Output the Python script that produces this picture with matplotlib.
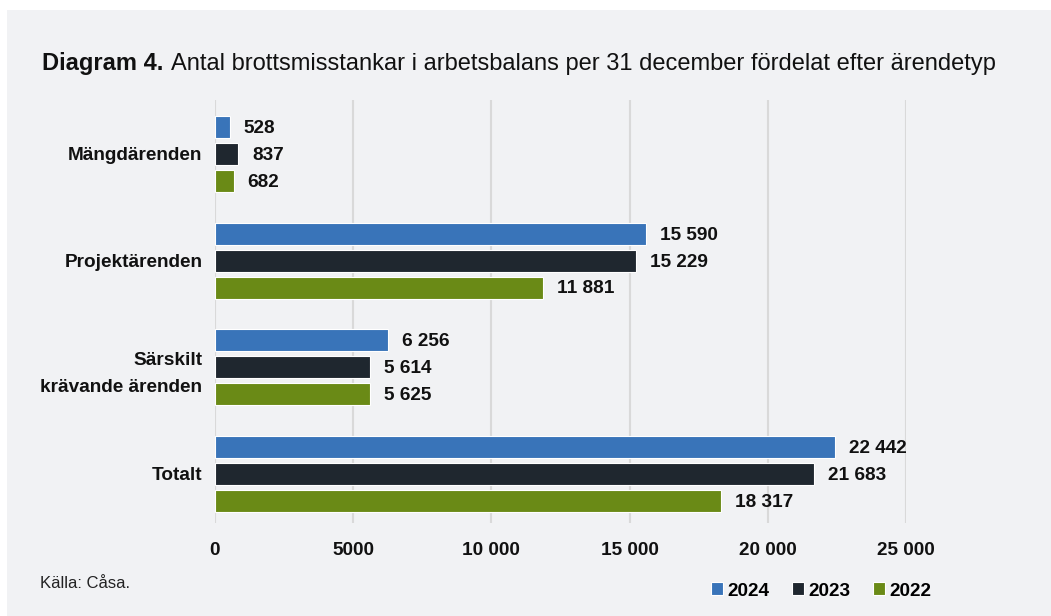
import numpy as np
import matplotlib.pyplot as plt
from matplotlib.patches import Rectangle

plt.rcParams['font.family'] = ['Liberation Sans', 'DejaVu Sans']

categories = ['Mängdärenden', 'Projektärenden', 'Särskilt\nkrävande ärenden', 'Totalt']
years = ['2024', '2023', '2022']
v2024 = [528, 15590, 6256, 22442]
v2023 = [837, 15229, 5614, 21683]
v2022 = [682, 11881, 5625, 18317]
xticks = [0, 5000, 10000, 15000, 20000, 25000]
xtick_labels = ['0', '5000', '10 000', '15 000', '20 000', '25 000']

colors = ['#3974b9', '#1f272f', '#6a8a16']
bg = '#f1f2f4'
fs = 13.7

fig = plt.figure(figsize=(10.51, 6.16), dpi=100)
fig.patch.set_facecolor('white')
fig.patches.append(Rectangle((7 / 1051, 0), 1, 1 - 10 / 616, transform=fig.transFigure,
                             facecolor=bg, edgecolor='none', zorder=-10))

ax = fig.add_axes([215 / 1051, 1 - 523 / 616, (906 - 215) / 1051, (523 - 100) / 616])
ax.set_facecolor('none')

y = np.arange(len(categories))
pitch = 0.253
height = 0.206
for i, (vals, col, yr) in enumerate(zip([v2024, v2023, v2022], colors, years)):
    pos = y + (i - 1) * pitch
    ax.barh(pos, vals, height=height, color=col, edgecolor='white', linewidth=0.8,
            label=yr, zorder=3)
    for p, v in zip(pos, vals):
        ax.annotate(f'{v:,}'.replace(',', ' '), (v, p), xytext=(10, -1),
                    textcoords='offset points', va='center', ha='left',
                    fontsize=fs, fontweight='bold', color='#111111')

ax.set_ylim(3.46, -0.506)
ax.set_xlim(0, 25000)
ax.set_yticks(y)
ax.set_yticklabels(categories, fontsize=fs, fontweight='bold', multialignment='right',
                   linespacing=1.75)
ax.set_xticks(xticks)
ax.set_xticklabels(xtick_labels, fontsize=fs, fontweight='bold')
ax.tick_params(axis='both', length=0, colors='#111111')
ax.tick_params(axis='x', pad=14)
ax.tick_params(axis='y', pad=9)
ax.grid(axis='x', color='#d9d9d9', linewidth=1.5, zorder=0)
for s in ax.spines.values():
    s.set_visible(False)

t1 = fig.text(42 / 1051, 1 - 70 / 616, 'Diagram 4.', fontsize=17, fontweight='bold',
              va='baseline', color='#111111')
r = fig.canvas.get_renderer()
x_end = t1.get_window_extent(r).x1
fig.text((x_end + 8) / 1051, 1 - 70 / 616,
         'Antal brottsmisstankar i arbetsbalans per 31 december fördelat efter ärendetyp',
         fontsize=17, va='baseline', color='#111111')
fig.text(40 / 1051, 1 - 588 / 616, 'Källa: Cåsa.', fontsize=12, va='baseline', color='#222222')

leg = fig.legend(loc='center left', bbox_to_anchor=(711 / 1051, 1 - 591 / 616), ncol=3,
                 frameon=False, fontsize=fs, handlelength=0.65, handleheight=0.65,
                 handletextpad=0.2, columnspacing=1.2, borderaxespad=0, borderpad=0)
for t in leg.get_texts():
    t.set_fontweight('bold')

fig.savefig('out.png', dpi=100, facecolor=fig.get_facecolor())
